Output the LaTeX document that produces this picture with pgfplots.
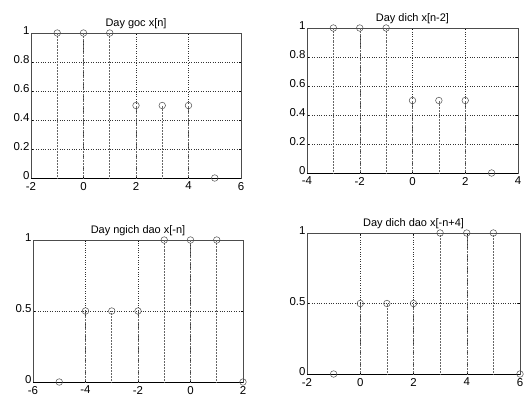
\documentclass[border=0pt]{standalone}
\usepackage{pgfplots}
\pgfplotsset{compat=1.18}
\usepackage{fontspec}
\setmainfont{Liberation Sans}
\pgfplotsset{
  mystem/.style={
    scale only axis,
    axis line style={black!70, line width=0.4pt},
    grid=major,
    major grid style={black!80, dotted, line width=0.4pt},
    tick style={black, line width=0.4pt},
    tick align=inside,
    major tick length=2pt,
    ymin=0, ymax=1,
    tick label style={font=\fontsize{11.5}{11.5}\selectfont},
    title style={font=\fontsize{11}{11}\selectfont, yshift=-5pt},
    /pgf/number format/assume math mode=true,
    xticklabel style={yshift=-0.5pt},
    yticklabel style={xshift=2pt, yshift=2pt},
  },
  stemplot/.style={ycomb, black!60, densely dotted, line width=0.5pt,
    mark=o, mark size=3.3pt, mark options={solid, black!70, line width=0.5pt}},
}
\begin{document}
\begin{tikzpicture}
\useasboundingbox (0bp,0bp) rectangle (526bp,-398bp);
% top left
\begin{axis}[mystem, at={(31bp,-178bp)}, anchor=south west, width=210bp, height=145bp,
  xmin=-2, xmax=6, xtick={-2,0,2,4,6}, ytick={0,0.2,0.4,0.6,0.8,1},
  title={Day goc x[n]}]
\addplot [black, line width=0.6pt] coordinates {(-2,0) (6,0)};
\addplot [stemplot] coordinates {(-1,1) (0,1) (1,1) (2,0.5) (3,0.5) (4,0.5) (5,0)};
\end{axis}
% top right
\begin{axis}[mystem, at={(307bp,-173bp)}, anchor=south west, width=211bp, height=145bp,
  xmin=-4, xmax=4, xtick={-4,-2,0,2,4}, ytick={0,0.2,0.4,0.6,0.8,1},
  title={Day dich x[n-2]}]
\addplot [black, line width=0.6pt] coordinates {(-4,0) (4,0)};
\addplot [stemplot] coordinates {(-3,1) (-2,1) (-1,1) (0,0.5) (1,0.5) (2,0.5) (3,0)};
\end{axis}
% bottom left
\begin{axis}[mystem, at={(33bp,-382bp)}, anchor=south west, width=210bp, height=142bp,
  xmin=-6, xmax=2, xtick={-6,-4,-2,0,2}, ytick={0,0.5,1},
  title={Day ngich dao x[-n]}]
\addplot [black, line width=0.6pt] coordinates {(-6,0) (2,0)};
\addplot [stemplot] coordinates {(-5,0) (-4,0.5) (-3,0.5) (-2,0.5) (-1,1) (0,1) (1,1) (2,0)};
\end{axis}
% bottom right
\begin{axis}[mystem, at={(307bp,-374bp)}, anchor=south west, width=213bp, height=141bp,
  xmin=-2, xmax=6, xtick={-2,0,2,4,6}, ytick={0,0.5,1},
  title={Day dich dao x[-n+4]}]
\addplot [black, line width=0.6pt] coordinates {(-2,0) (6,0)};
\addplot [stemplot] coordinates {(-1,0) (0,0.5) (1,0.5) (2,0.5) (3,1) (4,1) (5,1) (6,0)};
\end{axis}
\end{tikzpicture}
\end{document}
